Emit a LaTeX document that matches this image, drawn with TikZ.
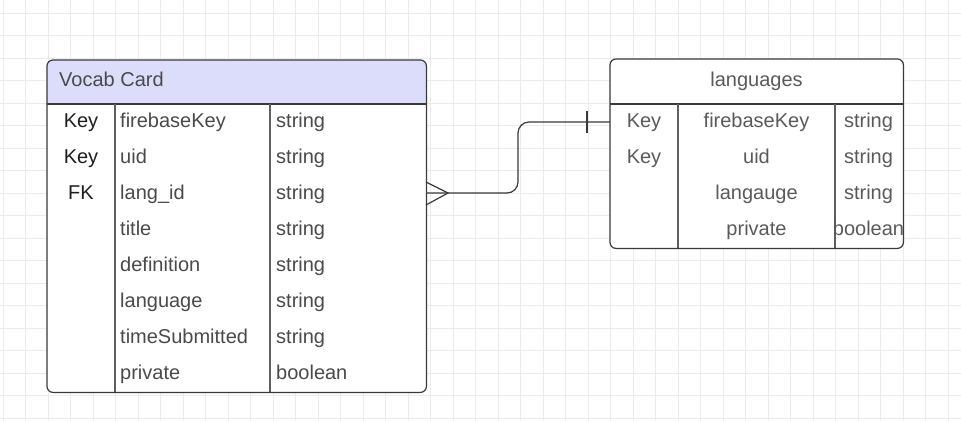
\documentclass[tikz,border=0pt]{standalone}
\usepackage{fontspec}
\setmainfont{Liberation Sans}
\definecolor{gridc}{HTML}{EBEBEB}
\definecolor{hdr}{HTML}{DCDCFB}
\definecolor{bord}{HTML}{3A3A3A}
\definecolor{divc}{HTML}{5E5E5E}
\definecolor{txtd}{HTML}{1E1E1E}
\definecolor{txtm}{HTML}{4A4A4A}
\definecolor{txtl}{HTML}{5A5A5A}
\begin{document}
\begin{tikzpicture}[x=1pt,y=-1pt,
  gridline/.style={draw=gridc,line width=0.9pt},
  boxline/.style={draw=bord,line width=1.2pt,rounded corners=6pt},
  divline/.style={draw=divc,line width=1.2pt},
  sepline/.style={draw=bord,line width=1.2pt},
  txt/.style={font=\fontsize{20}{24}\selectfont,inner sep=0pt},
  conn/.style={draw=bord,line width=1.2pt}]
\useasboundingbox (0,0) rectangle (961,421);
\fill[white] (0,0) rectangle (961,421);
% grid
\foreach \i in {0,...,42} \draw[gridline] (3.3+22.5*\i,0) -- (3.3+22.5*\i,421);
\foreach \j in {0,...,18} \draw[gridline] (0,13.3+22.5*\j) -- (961,13.3+22.5*\j);
% Vocab Card box
\node[fill=white,rounded corners=6pt,minimum width=379pt,minimum height=332pt,inner sep=0pt,anchor=north west] (vc) at (47,60) {};
\begin{scope}
  \clip[rounded corners=6pt] (vc.north west) rectangle (vc.south east);
  \fill[hdr] (47,60) rectangle (426,104);
\end{scope}
\draw[sepline] (47,104) -- (426,104);
\draw[divline] (115,104) -- (115,392);
\draw[divline] (270,104) -- (270,392);
\draw[boxline] (vc.north west) rectangle (vc.south east);
\node[txt,text=txtm,anchor=base west] (vctitle) at (59,86.5) {Vocab Card};
\foreach \k/\n/\t [count=\i] in {Key/firebaseKey/string, Key/uid/string, FK/lang\_id/string, {}/title/string, {}/definition/string, {}/language/string, {}/timeSubmitted/string, {}/private/boolean}{
  \node[txt,text=txtd,anchor=base] (vk\i) at (81,127.5+36*\i-36) {\k};
  \node[txt,text=txtm,anchor=base west] (vn\i) at (120,127.5+36*\i-36) {\n};
  \node[txt,text=txtm,anchor=base west] (vt\i) at (276,127.5+36*\i-36) {\t};
}
% languages box
\node[fill=white,rounded corners=6pt,minimum width=293pt,minimum height=189pt,inner sep=0pt,anchor=north west] (lg) at (610,59) {};
\draw[sepline] (610,104) -- (903,104);
\draw[divline] (678,104) -- (678,248);
\draw[divline] (835,104) -- (835,248);
\draw[boxline] (lg.north west) rectangle (lg.south east);
\node[txt,text=txtl,anchor=base] (lgtitle) at (756.5,86) {languages};
\foreach \k/\n/\t [count=\i] in {Key/firebaseKey/string, Key/uid/string, {}/langauge/string, {}/private/boolean}{
  \node[txt,text=txtl,anchor=base] (lk\i) at (644,127.5+36*\i-36) {\k};
  \node[txt,text=txtl,anchor=base] (ln\i) at (756.5,127.5+36*\i-36) {\n};
  \node[txt,text=txtl,anchor=base] (lt\i) at (868.5,127.5+36*\i-36) {\t};
}
% connector
\coordinate (ca) at (426,193);
\coordinate (cb) at (610,122);
\draw[conn,rounded corners=11pt] (ca) -- (518,193) |- (cb);
\draw[conn] (426,182) -- (448,193) -- (426,205);
\draw[conn] (587,111) -- (587,133);
\end{tikzpicture}
\end{document}
